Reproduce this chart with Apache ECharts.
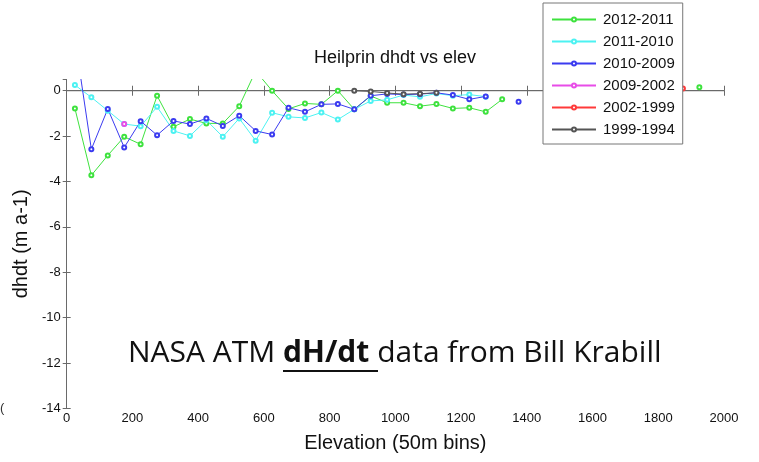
<!DOCTYPE html>
<html>
<head>
<meta charset="utf-8">
<script src="https://cdn.jsdelivr.net/npm/echarts@6/dist/echarts.min.js"></script>
<style>
  html, body { margin: 0; padding: 0; background: #fff; }
  #chart { width: 759px; height: 462px; }
</style>
</head>
<body>
<div id="chart"></div>
<script>
// elevation bin centres (m) and dh/dt values (m a-1) per epoch
const x2012 = [25, 75, 125, 175, 225, 275, 325, 375, 425, 475, 525, 575, 625, 675, 725, 775, 825, 875, 925, 975, 1025, 1075, 1125, 1175, 1225, 1275, 1325, 1375, 1925];
const y2012 = [-0.78, -3.73, -2.85, -2.03, -2.36, -0.22, -1.59, -1.25, -1.44, -1.44, -0.68, 0.87, 0.0, -0.8, -0.56, -0.6, 0.0, -0.82, -0.23, -0.53, -0.53, -0.68, -0.59, -0.78, -0.75, -0.93, -0.38, '-', 0.15];

const x2011 = [25, 75, 125, 175, 225, 275, 325, 375, 425, 475, 525, 575, 625, 675, 725, 775, 825, 875, 925, 975, 1025, 1075, 1125, 1175, 1225, 1275];
const y2011 = [0.25, -0.29, -0.88, -1.47, -1.56, -0.71, -1.77, -1.99, -1.3, -2.03, -1.22, -2.2, -0.97, -1.15, -1.2, -0.96, -1.27, -0.82, -0.45, -0.4, -0.19, -0.27, -0.12, -0.22, -0.17, -0.26];

const x2010 = [25, 75, 125, 175, 225, 275, 325, 375, 425, 475, 525, 575, 625, 675, 725, 775, 825, 875, 925, 975, 1025, 1075, 1125, 1175, 1225, 1275, 1325, 1375];
const y2010 = [2.3, -2.58, -0.8, -2.5, -1.34, -1.96, -1.33, -1.47, -1.22, -1.55, -1.1, -1.77, -1.93, -0.75, -0.93, -0.6, -0.58, -0.82, -0.22, -0.14, -0.17, -0.15, -0.09, -0.19, -0.38, -0.25, '-', -0.48];

const x2009 = [175];
const y2009 = [-1.47];

const x2002 = [1775, 1825, 1875];
const y2002 = [0.02, 0.05, 0.1];

const x1999 = [875, 925, 975, 1025, 1075, 1125];
const y1999 = [0.0, -0.03, -0.1, -0.15, -0.13, -0.09];

const seriesNames = ['2012-2011', '2011-2010', '2010-2009', '2009-2002', '2002-1999', '1999-1994'];
const seriesColors = ['#3ee23e', '#4cf2f2', '#3b3bf0', '#e84ce8', '#ff3a3a', '#555555'];
const xTicks = [0, 200, 400, 600, 800, 1000, 1200, 1400, 1600, 1800, 2000];
const yTicks = [-14, -12, -10, -8, -6, -4, -2, 0];

const xs = [x2012, x2011, x2010, x2009, x2002, x1999];
const ys = [y2012, y2011, y2010, y2009, y2002, y1999];

const chart = echarts.init(document.getElementById('chart'));
const font = 'Liberation Sans, Arial, sans-serif';
const frame = '#6a6a6a';

const series = seriesNames.map((name, i) => ({
  name: name,
  type: 'line',
  data: xs[i].map((x, j) => [x, ys[i][j]]),
  symbol: 'emptyCircle',
  symbolSize: 4,
  showSymbol: true,
  clip: true,
  connectNulls: false,
  animation: false,
  lineStyle: { width: 1, color: seriesColors[i] },
  itemStyle: { color: seriesColors[i], borderWidth: 1 },
  z: 2,
}));

// zero reference line
series.push({
  type: 'line',
  data: [[0, 0], [2000, 0]],
  symbol: 'none',
  silent: true,
  animation: false,
  lineStyle: { width: 1, color: frame },
  z: 1,
});

const tickLabel = { fontFamily: font, fontSize: 13, color: '#111' };

chart.setOption({
  animation: false,
  grid: { left: 66.7, right: 35, top: 79.4, bottom: 53.7 },
  legend: {
    data: seriesNames,
    orient: 'vertical',
    left: 543,
    top: 3,
    z: 20,
    itemWidth: 44,
    itemHeight: 5,
    itemGap: 7,
    padding: [9, 8, 7, 8],
    backgroundColor: '#fff',
    borderColor: '#777',
    borderWidth: 1,
    textStyle: { fontFamily: font, fontSize: 15, color: '#111', padding: [0, 0, 0, 2] },
  },
  xAxis: [
    {
      type: 'value', min: 0, max: 2000, interval: 200,
      position: 'bottom',
      name: 'Elevation (50m bins)',
      nameLocation: 'middle',
      nameGap: 25,
      nameTextStyle: { fontFamily: font, fontSize: 20, color: '#111' },
      axisLine: { lineStyle: { color: frame } },
      axisTick: { inside: true, length: 5, lineStyle: { color: frame } },
      axisLabel: Object.assign({ margin: 4, formatter: v => xTicks.includes(v) ? String(v) : '' }, tickLabel),
      splitLine: { show: false },
    },
    {
      type: 'value', min: 0, max: 2000, interval: 200,
      position: 'top',
      axisLine: { lineStyle: { color: frame } },
      axisTick: { inside: true, length: 5, lineStyle: { color: frame } },
      axisLabel: { show: false },
      splitLine: { show: false },
    },
  ],
  yAxis: [
    {
      type: 'value', min: -14, max: 0.5, interval: 2,
      position: 'left',
      name: 'dhdt (m a-1)',
      nameLocation: 'middle',
      nameGap: 33,
      nameTextStyle: { fontFamily: font, fontSize: 20, color: '#111' },
      axisLine: { lineStyle: { color: frame } },
      axisTick: { inside: true, length: 4, lineStyle: { color: frame } },
      axisLabel: Object.assign({ margin: 6, showMaxLabel: false, formatter: v => yTicks.includes(v) ? String(v) : '' }, tickLabel),
      splitLine: { show: false },
    },
    {
      type: 'value', min: -14, max: 0.5, interval: 2,
      position: 'right',
      axisLine: { lineStyle: { color: frame } },
      axisTick: { inside: true, length: 4, lineStyle: { color: frame } },
      axisLabel: { show: false },
      splitLine: { show: false },
    },
  ],
  series: series,
  graphic: [
    {
      type: 'text', x: 395, y: 49,
      style: { text: 'Heilprin dhdt vs elev', fontFamily: font, fontSize: 18, fill: '#111', textAlign: 'center' },
    },
    {
      type: 'text', x: 128, y: 338,
      style: {
        text: '{n|NASA ATM }{b|dH/dt }{n|data from Bill Krabill}',
        rich: {
          n: { fontFamily: 'Open Sans, Lato, sans-serif', fontSize: 30, fill: '#111' },
          b: { fontFamily: 'Open Sans, Lato, sans-serif', fontSize: 30, fontWeight: 'bold', fill: '#111' },
        },
      },
      z: 10,
    },
    {
      type: 'line', shape: { x1: 283, y1: 371, x2: 378, y2: 371 },
      style: { stroke: '#111', lineWidth: 2 }, z: 10,
    },
    {
      type: 'text', x: 0, y: 402,
      style: { text: '(', fontFamily: font, fontSize: 13, fill: '#333' },
    },
  ],
});
</script>
</body>
</html>
